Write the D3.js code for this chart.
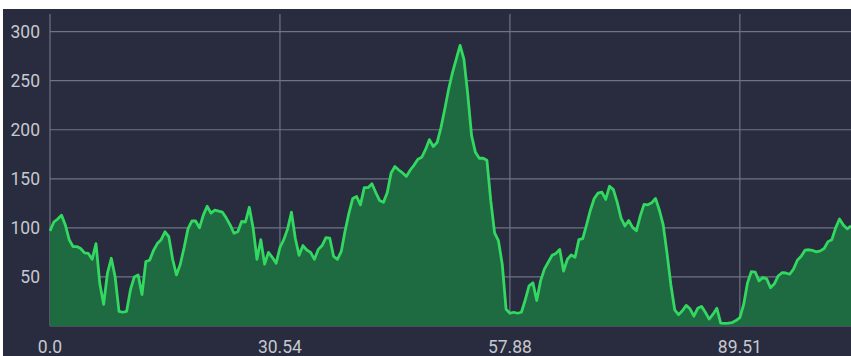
<!DOCTYPE html>
<meta charset="utf-8">
<style>
  body { margin: 0; background: #fff; }
  .bg { fill: #282c3e; }
  .grid line { stroke: #6e7385; stroke-width: 1.2px; }
  .tick-label { fill: #c6c8cf; font-family: Roboto, sans-serif; font-size: 17.5px; }
  .area { fill: #1e6a41; }
  .line { fill: none; stroke: #33d860; stroke-width: 2.8px; stroke-linejoin: round; }
</style>

<svg width="851" height="356"></svg>

<script src="https://d3js.org/d3.v7.min.js"></script>
<script>

// values, one per sample point
var elevation = [
  97, 106, 109, 113, 103, 88, 81, 81, 79, 74.5,
  74, 68, 84, 43, 22, 54, 69, 50, 15, 14,
  15, 37, 50, 52, 32, 65.6, 67, 77, 84, 88,
  96, 91, 68, 52, 63, 80, 99, 107, 107, 100,
  113, 122, 115, 118, 117, 116, 110, 103, 94.5, 96,
  106.5, 106, 121, 100, 68, 88, 63, 75, 70, 64,
  80, 88, 99, 116, 89.5, 72, 82, 77.5, 75, 68,
  78, 82, 90, 89.5, 71, 68, 76, 97, 115, 130,
  132, 123.5, 141, 141, 145, 136, 128, 126, 136, 156,
  162.5, 159, 156, 152.5, 159, 164, 170, 172, 180, 190,
  183, 187, 202, 221, 241, 258, 272, 286, 272, 236,
  194, 177, 171, 171, 169, 128, 95, 87, 63, 17,
  13, 14, 13, 14, 26.5, 41, 44, 26, 46, 58,
  65, 72, 74, 78, 56, 68, 72.4, 70, 88, 89,
  103, 118, 130, 135.4, 136.5, 129, 142.5, 139, 126, 110,
  102, 107.5, 100.5, 97, 112, 124, 123.5, 125.5, 130, 118,
  103, 74, 42, 16.5, 11.5, 15.5, 21, 17.5, 10, 18,
  20, 14, 7, 12, 18, 3, 2.7, 3, 3.5, 5.5,
  8.5, 22, 44, 55.5, 55, 46, 49.5, 48, 39, 43,
  51, 54.3, 54, 52.7, 58, 67, 71, 77.3, 77.7, 77,
  75.5, 76.5, 79, 86, 88, 100, 109, 103, 99, 102
];

// distance labels and the sample each one sits under
var xTickIndex = [0, 60, 120, 180];
var xTickLabels = ["0.0", "30.54", "57.88", "89.51"];

var yTicks = [50, 100, 150, 200, 250, 300];

var svg = d3.select("svg"),
    width = +svg.attr("width"),
    height = +svg.attr("height");

var margin = {top: 14, right: 0, bottom: 30, left: 50};

var x = d3.scaleLinear()
    .domain([0, elevation.length - 1])
    .range([margin.left, width - margin.right]);

var y = d3.scaleLinear()
    .domain([0, 318])
    .range([height - margin.bottom, margin.top]);

// dark panel behind everything
svg.append("rect")
    .attr("class", "bg")
    .attr("x", 3)
    .attr("y", 9)
    .attr("width", width - 3)
    .attr("height", height - 9);

var grid = svg.append("g").attr("class", "grid");

grid.selectAll(".h")
    .data([0].concat(yTicks))
    .enter().append("line")
    .attr("class", "h")
    .attr("x1", margin.left)
    .attr("x2", width)
    .attr("y1", function(d) { return y(d); })
    .attr("y2", function(d) { return y(d); });

grid.selectAll(".v")
    .data(xTickIndex)
    .enter().append("line")
    .attr("class", "v")
    .attr("x1", function(d) { return x(d); })
    .attr("x2", function(d) { return x(d); })
    .attr("y1", y.range()[1])
    .attr("y2", y(0));

var area = d3.area()
    .x(function(d, i) { return x(i); })
    .y0(y(0))
    .y1(function(d) { return y(d); });

var line = d3.line()
    .x(function(d, i) { return x(i); })
    .y(function(d) { return y(d); });

svg.append("path")
    .datum(elevation)
    .attr("class", "area")
    .attr("d", area);

svg.append("path")
    .datum(elevation)
    .attr("class", "line")
    .attr("d", line);

// y labels
svg.selectAll(".ylab")
    .data(yTicks)
    .enter().append("text")
    .attr("class", "tick-label ylab")
    .attr("x", 40)
    .attr("y", function(d) { return y(d); })
    .attr("dy", "0.35em")
    .attr("text-anchor", "end")
    .text(function(d) { return d; });

// x labels
svg.selectAll(".xlab")
    .data(xTickIndex)
    .enter().append("text")
    .attr("class", "tick-label xlab")
    .attr("x", function(d) { return x(d); })
    .attr("y", 353)
    .attr("text-anchor", "middle")
    .text(function(d, i) { return xTickLabels[i]; });

</script>
